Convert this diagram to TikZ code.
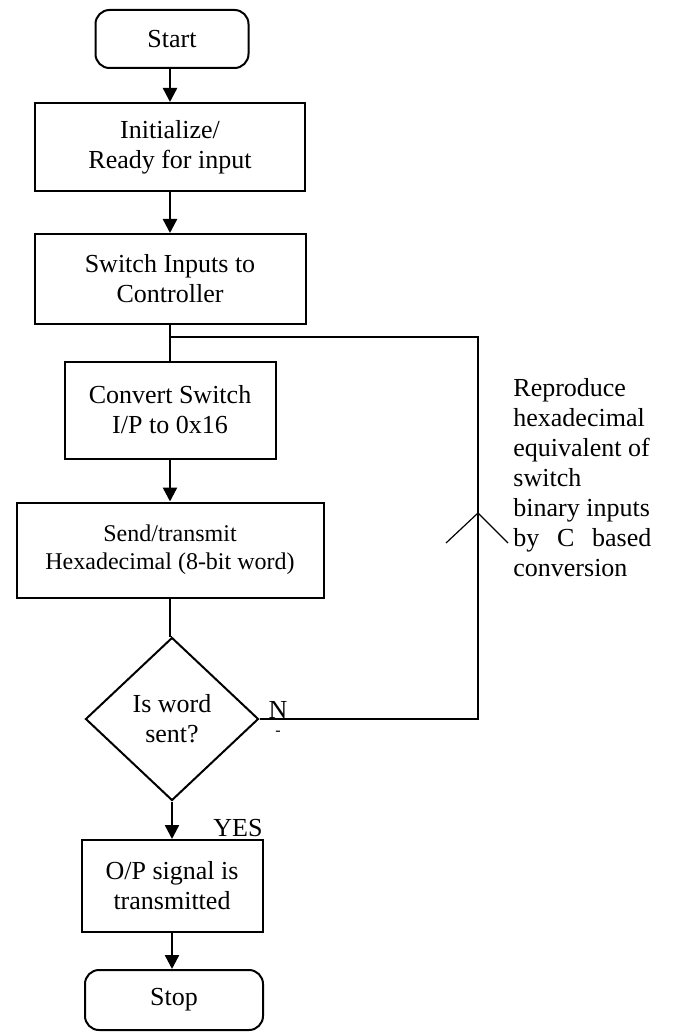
\documentclass[tikz,border=0pt]{standalone}
\usepackage{fontspec}
\setmainfont{Liberation Serif}
\usetikzlibrary{shapes.geometric,arrows.meta}

\tikzset{
  flowBox/.style={rectangle, draw=black, line width=1pt, align=center, inner sep=0pt, font=\fontsize{13}{15}\selectfont},
  termBox/.style={flowBox, rounded corners=7pt},
  flowArrow/.style={line width=1.2pt, -{Triangle[length=7pt, width=7pt]}},
  flowLine/.style={line width=0.6pt}
}

\begin{document}
\begin{tikzpicture}[x=0.5pt, y=-0.5pt]
\useasboundingbox (0,0) rectangle (673,1032);

\node (startNode) [termBox, minimum width=76.5pt, minimum height=29pt] at (172,39) {Start};
\node (initBox) [flowBox, minimum width=135pt, minimum height=44pt] at (170,147) {Initialize/\\Ready for input};
\node (switchBox) [flowBox, minimum width=135.5pt, minimum height=45pt] at (170,279) {Switch Inputs to\\Controller};
\node (convertBox) [flowBox, minimum width=105.5pt, minimum height=48.5pt] at (170,410) {Convert Switch\\I/P to 0x16};
\node (sendBox) [flowBox, minimum width=153.5pt, minimum height=47.5pt, font=\fontsize{12}{14}\selectfont] at (170,550) {Send/transmit\\Hexadecimal (8-bit word)};
\node (sentCheck) [diamond, draw=black, line width=1pt, align=center, inner sep=0pt, minimum width=86.5pt, minimum height=81.5pt, font=\fontsize{13}{15}\selectfont] at (172,719) {Is word\\sent?};
\node (outBox) [flowBox, minimum width=90.5pt, minimum height=46pt] at (172,886) {O/P signal is\\transmitted};
\node (stopNode) [termBox, minimum width=89pt, minimum height=30pt] at (174,1000) {Stop};

\node (noLabel) [font=\fontsize{13}{15}\selectfont] at (278,710) {N};
\node (noDash) [font=\fontsize{8}{8}\selectfont] at (278,733) {-};
\node (yesLabel) [font=\fontsize{13}{15}\selectfont] at (238,828) {YES};
\node (noteText) [anchor=north west, inner sep=0pt, align=left, font=\fontsize{13}{15}\selectfont] at (513,378) {Reproduce\\hexadecimal\\equivalent of\\switch\\binary inputs\\\makebox[69pt][s]{by C based}\\conversion};

\coordinate (loopSplit) at (170,337);
\coordinate (loopTop) at (478,337);
\coordinate (loopBottom) at (478,719);
\coordinate (loopTip) at (478,513);

\draw[flowArrow] (startNode.south -| initBox) -- (initBox.north);
\draw[flowArrow] (initBox.south) -- (switchBox.north);
\draw[flowLine] (switchBox.south) -- (convertBox.north);
\draw[flowArrow] (convertBox.south) -- (sendBox.north);
\draw[flowLine] (sendBox.south) -- (sendBox.south |- sentCheck.north) -- (sentCheck.north);
\draw[flowArrow] (sentCheck.south) -- (outBox.north);
\draw[flowArrow] (outBox.south) -- (outBox.south |- stopNode.north);

\draw[flowLine] (sentCheck.east) -- (loopBottom) -- (loopTop) -- (loopSplit);
\draw[flowLine] (loopTip) ++(-32,30) -- (loopTip) -- ++(30,30);

\end{tikzpicture}
\end{document}
